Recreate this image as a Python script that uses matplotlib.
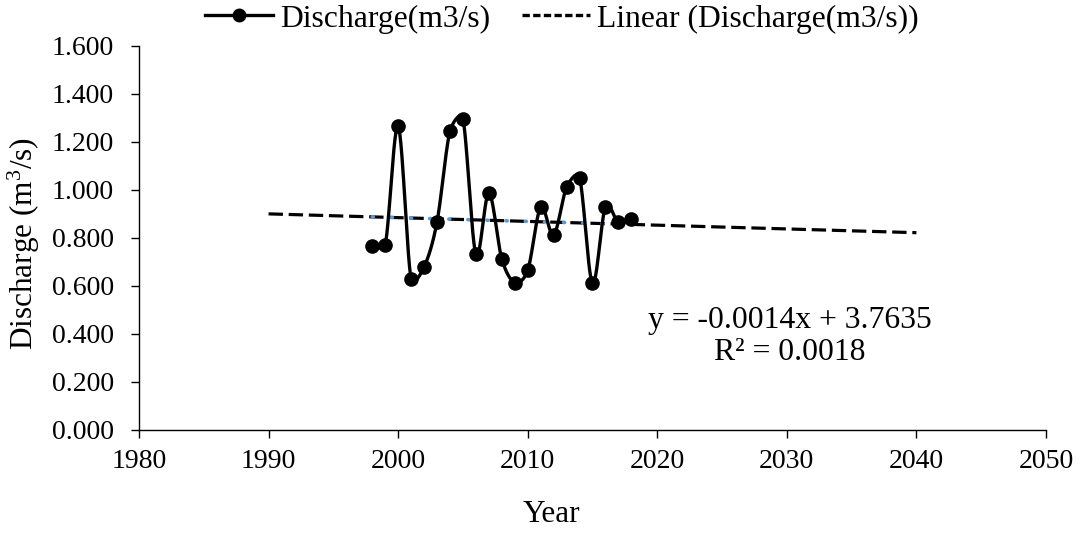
import numpy as np
import matplotlib
matplotlib.use("Agg")
import matplotlib.pyplot as plt
from matplotlib.lines import Line2D

plt.rcParams['font.family'] = ['Liberation Serif', 'DejaVu Serif']
plt.rcParams['mathtext.fontset'] = 'custom'
plt.rcParams['mathtext.rm'] = 'Liberation Serif'
plt.rcParams['mathtext.it'] = 'Liberation Serif:italic'

years = [1998, 1999, 2000, 2001, 2002, 2003, 2004, 2005, 2006, 2007, 2008,
         2009, 2010, 2011, 2012, 2013, 2014, 2015, 2016, 2017, 2018]
discharge = [0.767, 0.770, 1.265, 0.628, 0.679, 0.867, 1.245, 1.297, 0.732, 0.987, 0.713,
             0.614, 0.665, 0.928, 0.813, 1.011, 1.052, 0.611, 0.930, 0.865, 0.879]
trend_range = [1990, 2040]
x_ticks = [1980, 1990, 2000, 2010, 2020, 2030, 2040, 2050]
y_ticks = [0.0, 0.2, 0.4, 0.6, 0.8, 1.0, 1.2, 1.4, 1.6]
eq_text = "y = -0.0014x + 3.7635\nR² = 0.0018"
legend_labels = ['Discharge(m3/s)', 'Linear (Discharge(m3/s))']


def excel_smooth(pts, n=24):
    """Excel-like smoothed line: cubic Bezier with clamped Catmull-Rom tangents (in pixel space)."""
    P = np.asarray(pts, float)
    m = len(P)
    out = [P[0]]
    t = np.linspace(0, 1, n + 1)[1:]
    for i in range(m - 1):
        p0 = P[i - 1] if i > 0 else P[i]
        p1, p2 = P[i], P[i + 1]
        p3 = P[i + 2] if i + 2 < m else P[i + 1]
        d12 = np.linalg.norm(p2 - p1)
        v1 = (p2 - p0) / 6.0
        v2 = (p3 - p1) / 6.0
        l1, l2 = np.linalg.norm(v1), np.linalg.norm(v2)
        if l1 > d12 / 2 and l1 > 0:
            v1 = v1 * (d12 / 2) / l1
        if l2 > d12 / 2 and l2 > 0:
            v2 = v2 * (d12 / 2) / l2
        c1 = p1 + v1
        c2 = p2 - v2
        for tt in t:
            b = ((1 - tt) ** 3) * p1 + 3 * ((1 - tt) ** 2) * tt * c1 + 3 * (1 - tt) * tt ** 2 * c2 + tt ** 3 * p2
            out.append(b)
    return np.array(out)


fig = plt.figure(figsize=(10.89, 5.34), dpi=100)
ax = fig.add_axes([0.12764, 0.19476, 0.83287, 0.7191])
ax.set_xlim(1980, 2050)
ax.set_ylim(0, 1.6)

# trend lines
coef = np.polyfit(years, discharge, 1)
tx = np.array(trend_range, float)
ax.plot(tx, np.polyval(coef, tx), color='black', lw=2.3, ls=(0, (4.5, 1.8)), zorder=2)
dx = np.array([years[0], years[-1]], float)
ax.plot(dx, np.polyval(coef, dx), color='#5b9bd5', lw=2.6, ls=(0, (0.3, 5)),
        dash_capstyle='round', zorder=2.5)

# smoothed data line computed in display space
disp = ax.transData.transform(np.column_stack([years, discharge]))
curve = ax.transData.inverted().transform(excel_smooth(disp))
ax.plot(curve[:, 0], curve[:, 1], color='black', lw=2.4, zorder=3, solid_capstyle='round')
ax.plot(years, discharge, 'o', color='black', ms=9.5, zorder=4)

ax.set_xticks(x_ticks)
ax.set_yticks(y_ticks)
ax.set_xticklabels([str(v) for v in x_ticks])
ax.set_yticklabels([f"{v:.3f}" for v in y_ticks])
ax.tick_params(axis='both', labelsize=20, length=6, width=1.0, direction='out', color='black')
ax.tick_params(axis='x', pad=8)
ax.tick_params(axis='y', pad=12)
for s in ['top', 'right']:
    ax.spines[s].set_visible(False)
ax.spines['left'].set_linewidth(1.0)
ax.spines['bottom'].set_linewidth(1.0)

ax.set_xlabel('Year', fontsize=22.5)
ax.xaxis.set_label_coords(0.455, -0.183)
ax.set_ylabel('Discharge (m$^{\\mathregular{3}}$/s)', fontsize=22.5)
ax.yaxis.set_label_coords(-0.107, 0.487)

ax.text(2030.24, 0.39, eq_text, fontsize=22.8, ha='center', va='center', linespacing=1.12)

handles = [Line2D([], [], color='black', lw=2.4, marker='o', ms=9),
           Line2D([], [], color='black', lw=2.4, ls=(0, (2.2, 1.0)))]
fig.legend(handles, legend_labels,
           loc='center', bbox_to_anchor=(562 / 1089, 1 - 19 / 534), ncol=2, frameon=False,
           fontsize=22.8, handlelength=2.15, columnspacing=1.0, handletextpad=0.22,
           borderpad=0, borderaxespad=0)

fig.savefig('out.png', dpi=100)
